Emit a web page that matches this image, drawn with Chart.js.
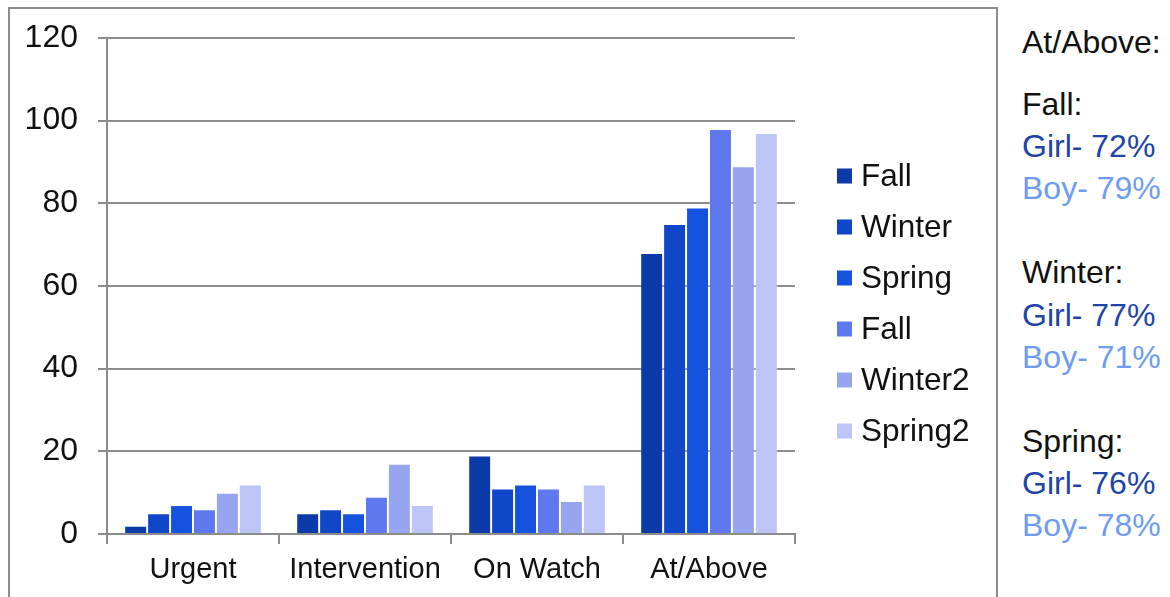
<!DOCTYPE html>
<html>
<head>
<meta charset="utf-8">
<script src="https://cdn.jsdelivr.net/npm/chart.js@4"></script>
<style>
  html, body { margin: 0; padding: 0; background: #fff; overflow: hidden; }
  body { width: 1170px; height: 597px; position: relative; font-family: "Liberation Sans", Arial, sans-serif; }
  #frame { position: absolute; left: 8px; top: 7px; width: 986px; height: 600px; border: 2px solid #8c8c8c; }
  #frame canvas { position: absolute; left: 0; top: 0; }
  #side { position: absolute; left: 1022px; top: 21px; font-size: 32px; line-height: 42.1px; color: #111; white-space: nowrap; }
  #side .gap { height: 42.1px; }
  #side .girl { color: #1d44a6; }
  #side .boy { color: #6f9cf0; }
</style>
</head>
<body>
<div id="frame"><canvas id="scores" width="986" height="590"></canvas></div>
<div id="side"></div>
<script>
// Categorías y valores de cada periodo
const categories = ['Urgent', 'Intervention', 'On Watch', 'At/Above'];
const seriesNames = ['Fall', 'Winter', 'Spring', 'Fall', 'Winter2', 'Spring2'];
const fall1 = [2, 5, 19, 68];
const winter1 = [5, 6, 11, 75];
const spring1 = [7, 5, 12, 79];
const fall2 = [6, 9, 11, 98];
const winter2 = [10, 17, 8, 89];
const spring2 = [12, 7, 12, 97];
const yTicks = [0, 20, 40, 60, 80, 100, 120];

// Texto lateral: porcentajes At/Above por periodo
const sideTitle = 'At/Above:';
const terms = ['Fall:', 'Winter:', 'Spring:'];
const girlPct = [72, 77, 76];
const boyPct = [79, 71, 78];

const seriesValues = [fall1, winter1, spring1, fall2, winter2, spring2];
const colors = ['#0c3aa9', '#1047c8', '#1553de', '#5f78ee', '#97a5f0', '#bcc5f5'];
const gridColor = '#8c8c8c';
const family = '"Liberation Sans", Arial, sans-serif';

// Leyenda a la derecha del área del gráfico
const sideLegend = {
  id: 'sideLegend',
  afterDraw(chart) {
    const ctx = chart.ctx;
    const sets = chart.data.datasets;
    const step = 51;
    const x = chart.chartArea.right + 42;
    const y0 = chart.height / 2 - step * (sets.length - 1) / 2;
    ctx.save();
    ctx.font = `31.5px ${family}`;
    ctx.textBaseline = 'middle';
    sets.forEach((ds, i) => {
      const y = y0 + i * step;
      ctx.fillStyle = ds.backgroundColor;
      ctx.fillRect(x, y - 8, 15, 15);
      ctx.fillStyle = '#111';
      ctx.fillText(ds.label, x + 24, y + 1);
    });
    ctx.restore();
  }
};

new Chart(document.getElementById('scores'), {
  type: 'bar',
  data: {
    labels: categories,
    datasets: seriesValues.map((values, i) => ({
      label: seriesNames[i],
      data: values,
      backgroundColor: colors[i],
      borderColor: 'rgba(255,255,255,0.25)',
      borderWidth: 1,
      categoryPercentage: 0.8,
      barPercentage: 1.0
    }))
  },
  options: {
    responsive: false,
    animation: false,
    layout: { padding: { top: 29, right: 201, bottom: 0, left: 0 } },
    plugins: {
      legend: { display: false },
      tooltip: { enabled: false }
    },
    scales: {
      x: {
        grid: { drawOnChartArea: false, color: gridColor, lineWidth: 2, tickLength: 10 },
        border: { color: gridColor, width: 2 },
        ticks: { font: { family: family, size: 29 }, color: '#111', padding: 9 },
        afterFit(scale) { scale.height = 65; }
      },
      y: {
        min: 0,
        max: 120,
        afterBuildTicks(scale) { scale.ticks = yTicks.map(v => ({ value: v })); },
        grid: { color: gridColor, lineWidth: 2, tickLength: 9 },
        border: { color: gridColor, width: 2 },
        ticks: { font: { family: family, size: 32 }, color: '#111', padding: 20 },
        afterFit(scale) {
          scale.width = 97;
          scale.paddingTop = 0;
          scale.paddingBottom = 0;
        }
      }
    }
  },
  plugins: [sideLegend]
});

// Bloque de texto lateral
const side = document.getElementById('side');
function addLine(text, cls) {
  const div = document.createElement('div');
  div.textContent = text;
  if (cls) div.className = cls;
  side.appendChild(div);
}
addLine(sideTitle);
side.appendChild(Object.assign(document.createElement('div'), { style: 'height:20px' }));
terms.forEach((term, i) => {
  if (i > 0) side.appendChild(Object.assign(document.createElement('div'), { className: 'gap' }));
  addLine(term);
  addLine(`Girl- ${girlPct[i]}%`, 'girl');
  addLine(`Boy- ${boyPct[i]}%`, 'boy');
});
</script>
</body>
</html>
